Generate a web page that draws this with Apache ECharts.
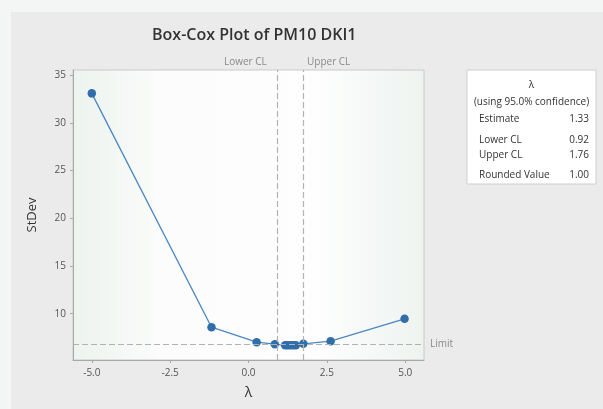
<!DOCTYPE html>
<html>
<head>
<meta charset="utf-8">
<script src="https://cdn.jsdelivr.net/npm/echarts@6/dist/echarts.min.js"></script>
<style>
  html, body { margin: 0; padding: 0; background: #f3f6f4; }
  #chart { width: 603px; height: 409px; }
</style>
</head>
<body>
<div id="chart"></div>
<script>
// Box-Cox search: lambda values tried and the standard deviation at each
const lambdas = [-5.0, -1.18, 0.26, 0.84, 1.17, 1.25, 1.33, 1.42, 1.51, 1.75, 2.62, 4.98];
const stdevs  = [33.1, 8.59, 7.02, 6.81, 6.70, 6.69, 6.69, 6.69, 6.70, 6.85, 7.12, 9.47];

// Confidence interval bounds and the limit line
const lowerCL = 0.92;
const upperCL = 1.76;
const limitValue = 6.77;

// Tick labels
const xTicks = [-5.0, -2.5, 0.0, 2.5, 5.0];
const yTicks = [10, 15, 20, 25, 30, 35];

// Summary box rows
const boxHeader = ['λ', '(using 95.0% confidence)'];
const statNames = ['Estimate', 'Lower CL', 'Upper CL', 'Rounded Value'];
const statValues = ['1.33', '0.92', '1.76', '1.00'];

const FONT = 'Open Sans';
const chart = echarts.init(document.getElementById('chart'));

const points = lambdas.map((l, i) => [l, stdevs[i]]);
const dash = { type: [6, 3], color: '#b2b2b2', width: 1.2 };

// summary box
const boxX = 467, boxY = 70, boxW = 129, boxH = 114;
const rowY = [119, 140, 155, 175];
const boxChildren = [
  { type: 'rect', shape: { x: boxX, y: boxY, width: boxW, height: boxH },
    style: { fill: '#ffffff', stroke: '#cfcfcf', lineWidth: 1 } },
  { type: 'text', style: { x: boxX + boxW / 2, y: 85, text: boxHeader[0], align: 'center', verticalAlign: 'middle',
      font: '10px "' + FONT + '"', fill: '#333' } },
  { type: 'text', style: { x: boxX + boxW / 2, y: 102, text: boxHeader[1], align: 'center', verticalAlign: 'middle',
      font: '10px "' + FONT + '"', fill: '#333' } }
];
statNames.forEach((n, i) => {
  boxChildren.push({ type: 'text', style: { x: boxX + 12, y: rowY[i], text: n, align: 'left', verticalAlign: 'middle',
    font: '10px "' + FONT + '"', fill: '#333' } });
  boxChildren.push({ type: 'text', style: { x: boxX + boxW - 7, y: rowY[i], text: statValues[i], align: 'right', verticalAlign: 'middle',
    font: '10px "' + FONT + '"', fill: '#333' } });
});

chart.setOption({
  animation: false,
  backgroundColor: '#f3f6f4',
  title: {
    text: 'Box-Cox Plot of PM10 DKI1',
    left: 147, top: 22,
    textStyle: { fontFamily: FONT, fontSize: 16, fontWeight: 600, color: '#333' }
  },
  grid: {
    left: 73, right: 179, top: 70, bottom: 49,
    show: true, borderColor: '#c9c9c9', borderWidth: 1,
    backgroundColor: {
      type: 'linear', x: 0, y: 0, x2: 1, y2: 0,
      colorStops: [
        { offset: 0, color: '#edf3ef' },
        { offset: 0.25, color: '#fbfcfb' },
        { offset: 0.7, color: '#fdfefd' },
        { offset: 1, color: '#eef3f0' }
      ]
    }
  },
  graphic: [
    { type: 'rect', z: -10, shape: { x: 11, y: 12, width: 592, height: 397 }, style: { fill: '#ebebeb' } },
    { type: 'group', children: boxChildren }
  ],
  xAxis: {
    type: 'value', min: -5.6, max: 5.6,
    name: 'λ', nameLocation: 'middle', nameGap: 26,
    nameTextStyle: { fontFamily: FONT, fontSize: 14, color: '#333' },
    axisLine: { onZero: false, lineStyle: { color: '#a8a8a8' } },
    axisTick: { show: true, length: 3, customValues: xTicks, lineStyle: { color: '#a8a8a8' } },
    axisLabel: { customValues: xTicks, formatter: v => v.toFixed(1), margin: 8,
      fontFamily: FONT, fontSize: 10, color: '#555' },
    splitLine: { show: false }
  },
  yAxis: {
    type: 'value', min: 5.15, max: 35.55,
    name: 'StDev', nameLocation: 'middle', nameGap: 34,
    nameTextStyle: { fontFamily: FONT, fontSize: 13, color: '#333' },
    axisLine: { show: true, onZero: false, lineStyle: { color: '#a8a8a8' } },
    axisTick: { show: true, length: 3, customValues: yTicks, lineStyle: { color: '#a8a8a8' } },
    axisLabel: { customValues: yTicks, margin: 7, fontFamily: FONT, fontSize: 10, color: '#555' },
    splitLine: { show: false }
  },
  series: [{
    type: 'line',
    data: points,
    symbol: 'circle', symbolSize: 8.5,
    itemStyle: { color: '#2f6eab' },
    lineStyle: { color: '#4a87c4', width: 1.3 },
    markLine: {
      silent: true, symbol: 'none',
      lineStyle: dash,
      label: { fontFamily: FONT, fontSize: 10, color: '#8a8a8a' },
      data: [
        { yAxis: limitValue, label: { formatter: 'Limit', position: 'end', distance: 6 } },
        { xAxis: lowerCL, label: { formatter: 'Lower CL', position: 'end', distance: 3, offset: [-32, 0] } },
        { xAxis: upperCL, label: { formatter: 'Upper CL', position: 'end', distance: 3, offset: [25, 0] } }
      ]
    }
  }]
});
</script>
</body>
</html>
